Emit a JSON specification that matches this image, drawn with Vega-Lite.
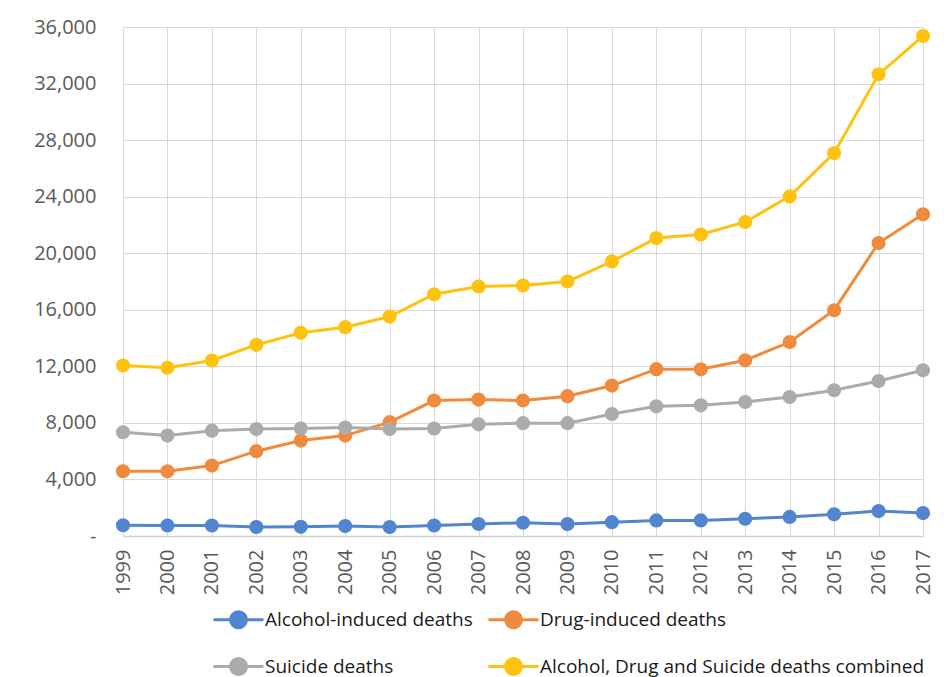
{
  "$schema": "https://vega.github.io/schema/vega-lite/v6.json",
  "width": 800,
  "height": 509,
  "autosize": "none",
  "padding": {"left": 123, "top": 27, "right": 25, "bottom": 141},
  "background": "white",
  "config": {"font": "Open Sans", "view": {"stroke": null}},
  "datasets": {
    "d": [
      {"year": "1999", "series": "Alcohol-induced deaths", "deaths": 760},
      {"year": "2000", "series": "Alcohol-induced deaths", "deaths": 740},
      {"year": "2001", "series": "Alcohol-induced deaths", "deaths": 740},
      {"year": "2002", "series": "Alcohol-induced deaths", "deaths": 640},
      {"year": "2003", "series": "Alcohol-induced deaths", "deaths": 650},
      {"year": "2004", "series": "Alcohol-induced deaths", "deaths": 700},
      {"year": "2005", "series": "Alcohol-induced deaths", "deaths": 640},
      {"year": "2006", "series": "Alcohol-induced deaths", "deaths": 740},
      {"year": "2007", "series": "Alcohol-induced deaths", "deaths": 850},
      {"year": "2008", "series": "Alcohol-induced deaths", "deaths": 940},
      {"year": "2009", "series": "Alcohol-induced deaths", "deaths": 840},
      {"year": "2010", "series": "Alcohol-induced deaths", "deaths": 980},
      {"year": "2011", "series": "Alcohol-induced deaths", "deaths": 1100},
      {"year": "2012", "series": "Alcohol-induced deaths", "deaths": 1100},
      {"year": "2013", "series": "Alcohol-induced deaths", "deaths": 1220},
      {"year": "2014", "series": "Alcohol-induced deaths", "deaths": 1350},
      {"year": "2015", "series": "Alcohol-induced deaths", "deaths": 1530},
      {"year": "2016", "series": "Alcohol-induced deaths", "deaths": 1760},
      {"year": "2017", "series": "Alcohol-induced deaths", "deaths": 1620},
      {"year": "1999", "series": "Drug-induced deaths", "deaths": 4580},
      {"year": "2000", "series": "Drug-induced deaths", "deaths": 4580},
      {"year": "2001", "series": "Drug-induced deaths", "deaths": 4980},
      {"year": "2002", "series": "Drug-induced deaths", "deaths": 6000},
      {"year": "2003", "series": "Drug-induced deaths", "deaths": 6750},
      {"year": "2004", "series": "Drug-induced deaths", "deaths": 7100},
      {"year": "2005", "series": "Drug-induced deaths", "deaths": 8050},
      {"year": "2006", "series": "Drug-induced deaths", "deaths": 9580},
      {"year": "2007", "series": "Drug-induced deaths", "deaths": 9650},
      {"year": "2008", "series": "Drug-induced deaths", "deaths": 9580},
      {"year": "2009", "series": "Drug-induced deaths", "deaths": 9890},
      {"year": "2010", "series": "Drug-induced deaths", "deaths": 10640},
      {"year": "2011", "series": "Drug-induced deaths", "deaths": 11800},
      {"year": "2012", "series": "Drug-induced deaths", "deaths": 11790},
      {"year": "2013", "series": "Drug-induced deaths", "deaths": 12430},
      {"year": "2014", "series": "Drug-induced deaths", "deaths": 13720},
      {"year": "2015", "series": "Drug-induced deaths", "deaths": 15970},
      {"year": "2016", "series": "Drug-induced deaths", "deaths": 20720},
      {"year": "2017", "series": "Drug-induced deaths", "deaths": 22750},
      {"year": "1999", "series": "Suicide deaths", "deaths": 7340},
      {"year": "2000", "series": "Suicide deaths", "deaths": 7100},
      {"year": "2001", "series": "Suicide deaths", "deaths": 7450},
      {"year": "2002", "series": "Suicide deaths", "deaths": 7560},
      {"year": "2003", "series": "Suicide deaths", "deaths": 7600},
      {"year": "2004", "series": "Suicide deaths", "deaths": 7670},
      {"year": "2005", "series": "Suicide deaths", "deaths": 7560},
      {"year": "2006", "series": "Suicide deaths", "deaths": 7600},
      {"year": "2007", "series": "Suicide deaths", "deaths": 7900},
      {"year": "2008", "series": "Suicide deaths", "deaths": 7980},
      {"year": "2009", "series": "Suicide deaths", "deaths": 7980},
      {"year": "2010", "series": "Suicide deaths", "deaths": 8630},
      {"year": "2011", "series": "Suicide deaths", "deaths": 9170},
      {"year": "2012", "series": "Suicide deaths", "deaths": 9240},
      {"year": "2013", "series": "Suicide deaths", "deaths": 9480},
      {"year": "2014", "series": "Suicide deaths", "deaths": 9830},
      {"year": "2015", "series": "Suicide deaths", "deaths": 10310},
      {"year": "2016", "series": "Suicide deaths", "deaths": 10960},
      {"year": "2017", "series": "Suicide deaths", "deaths": 11720},
      {"year": "1999", "series": "Alcohol, Drug and Suicide deaths combined", "deaths": 12060},
      {"year": "2000", "series": "Alcohol, Drug and Suicide deaths combined", "deaths": 11900},
      {"year": "2001", "series": "Alcohol, Drug and Suicide deaths combined", "deaths": 12410},
      {"year": "2002", "series": "Alcohol, Drug and Suicide deaths combined", "deaths": 13520},
      {"year": "2003", "series": "Alcohol, Drug and Suicide deaths combined", "deaths": 14370},
      {"year": "2004", "series": "Alcohol, Drug and Suicide deaths combined", "deaths": 14770},
      {"year": "2005", "series": "Alcohol, Drug and Suicide deaths combined", "deaths": 15520},
      {"year": "2006", "series": "Alcohol, Drug and Suicide deaths combined", "deaths": 17100},
      {"year": "2007", "series": "Alcohol, Drug and Suicide deaths combined", "deaths": 17650},
      {"year": "2008", "series": "Alcohol, Drug and Suicide deaths combined", "deaths": 17720},
      {"year": "2009", "series": "Alcohol, Drug and Suicide deaths combined", "deaths": 18000},
      {"year": "2010", "series": "Alcohol, Drug and Suicide deaths combined", "deaths": 19420},
      {"year": "2011", "series": "Alcohol, Drug and Suicide deaths combined", "deaths": 21070},
      {"year": "2012", "series": "Alcohol, Drug and Suicide deaths combined", "deaths": 21320},
      {"year": "2013", "series": "Alcohol, Drug and Suicide deaths combined", "deaths": 22210},
      {"year": "2014", "series": "Alcohol, Drug and Suicide deaths combined", "deaths": 24020},
      {"year": "2015", "series": "Alcohol, Drug and Suicide deaths combined", "deaths": 27080},
      {"year": "2016", "series": "Alcohol, Drug and Suicide deaths combined", "deaths": 32650},
      {"year": "2017", "series": "Alcohol, Drug and Suicide deaths combined", "deaths": 35360}
    ]
  },
  "data": {"name": "d"},
  "mark": {"type": "line", "strokeWidth": 3, "point": {"filled": true, "size": 200, "opacity": 1}},
  "encoding": {
    "x": {
      "field": "year", "type": "ordinal",
      "scale": {"type": "point", "padding": 0},
      "axis": {
        "title": null, "labelAngle": -90, "labelAlign": "right", "labelBaseline": "middle",
        "labelFontSize": 20, "labelColor": "#595959", "labelPadding": 13,
        "ticks": false, "grid": true, "gridColor": "#d9d9d9", "gridWidth": 1,
        "domainColor": "#d0d0d0", "domainWidth": 1.5
      }
    },
    "y": {
      "field": "deaths", "type": "quantitative",
      "scale": {"domain": [0, 36000], "nice": false},
      "axis": {
        "title": null, "values": [0, 4000, 8000, 12000, 16000, 20000, 24000, 28000, 32000, 36000],
        "labelExpr": "datum.value == 0 ? '-' : format(datum.value, ',')",
        "labelFontSize": 20, "labelColor": "#595959", "labelPadding": 27,
        "ticks": false, "domain": false, "grid": true, "gridColor": "#d9d9d9", "gridWidth": 1
      }
    },
    "color": {
      "field": "series", "type": "nominal",
      "scale": {
        "domain": ["Alcohol-induced deaths", "Drug-induced deaths", "Suicide deaths", "Alcohol, Drug and Suicide deaths combined"],
        "range": ["#5185cf", "#f08a3c", "#ababab", "#ffc20e"]
      },
      "legend": {
        "title": null, "orient": "none", "legendX": 89, "legendY": 566,
        "columns": 2, "direction": "horizontal",
        "labelFontSize": 19, "labelColor": "#1a1a1a", "labelLimit": 500,
        "symbolType": "M-1,0L1,0M-0.32,0A0.32,0.32,0,1,1,0.32,0A0.32,0.32,0,1,1,-0.32,0Z",
        "symbolSize": 2500, "symbolStrokeWidth": 3, "symbolOpacity": 1,
        "labelOffset": 0, "columnPadding": 9, "rowPadding": 6,
        "encode": {"symbols": {"update": {"fill": {"scale": "color", "field": "value"}, "stroke": {"scale": "color", "field": "value"}}}}
      }
    }
  }
}
